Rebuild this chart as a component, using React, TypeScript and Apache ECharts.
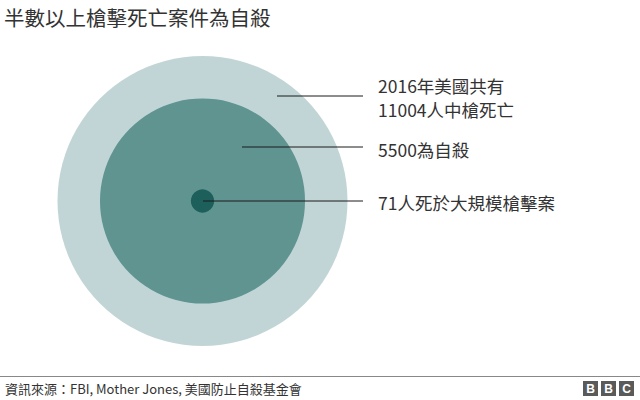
import React, { useEffect, useRef } from "react";
import * as echarts from "echarts";

const categories = [["2016年美國共有", "11004人中槍死亡"], ["5500為自殺"], ["71人死於大規模槍擊案"]];
const values = [11004, 5500, 71];
const colors = ["#c2d5d6", "#5f9491", "#1d5f5a"];
const titleText = "半數以上槍擊死亡案件為自殺";
const sourceText = "資訊來源：FBI, Mother Jones, 美國防止自殺基金會";

const FONT = "'Noto Sans CJK TC', 'Noto Sans', sans-serif";

export default function App() {
  const ref = useRef<HTMLDivElement>(null);
  useEffect(() => {
    document.body.style.margin = "0";
    const chart = echarts.init(ref.current!, null, { renderer: "svg" });
    const cx = 202.5;
    const cy = 201;
    const maxR = 145;
    const maxV = Math.max(...values);
    const radius = (v: number) => maxR * Math.sqrt(v / maxV);
    const lineY = [96, 147, 201];
    const lineX0 = [277, 242, 203];
    const labelY = [97.5, 149, 202];
    const lineH = 24;
    const graphics: any[] = [];
    categories.forEach((lines, i) => {
      graphics.push({
        type: "line",
        z: 10,
        shape: { x1: lineX0[i], y1: lineY[i], x2: 363, y2: lineY[i] },
        style: { stroke: "#1a1a1a", lineWidth: 1 },
      });
      const start = labelY[i] - ((lines.length - 1) * lineH) / 2;
      lines.forEach((t, j) => {
        graphics.push({
          type: "text",
          z: 10,
          x: 378,
          y: start + j * lineH,
          style: {
            text: t,
            font: `17.5px ${FONT}`,
            fill: "#333333",
            verticalAlign: "middle",
          },
        });
      });
    });
    graphics.push(
      {
        type: "text",
        x: 4,
        y: 17,
        style: { text: titleText, font: `20.5px ${FONT}`, fill: "#333333", verticalAlign: "middle" },
      },
      {
        type: "line",
        shape: { x1: 0, y1: 376.5, x2: 640, y2: 376.5 },
        style: { stroke: "#888888", lineWidth: 1 },
      },
      {
        type: "text",
        x: 5,
        y: 388,
        style: { text: sourceText, font: `13px ${FONT}`, fill: "#333333", verticalAlign: "middle" },
      }
    );
    ["B", "B", "C"].forEach((ch, i) => {
      const x = 583 + i * 18;
      graphics.push({
        type: "rect",
        shape: { x, y: 381, width: 15, height: 15 },
        style: { fill: "#5a5a5a" },
      });
      graphics.push({
        type: "text",
        x: x + 7.5,
        y: 389,
        style: {
          text: ch,
          font: `bold 12px 'Liberation Sans', Arial, sans-serif`,
          fill: "#ffffff",
          align: "center",
          verticalAlign: "middle",
        },
      });
    });

    chart.setOption({
      animation: false,
      grid: { left: 0, right: 0, top: 0, bottom: 0 },
      xAxis: { type: "value", min: 0, max: 640, show: false },
      yAxis: { type: "value", min: 0, max: 400, inverse: true, show: false },
      series: [
        {
          type: "scatter",
          data: values.map((v, i) => ({
            value: [cx, cy, v],
            symbolSize: radius(v) * 2,
            itemStyle: { color: colors[i], opacity: 1 },
          })),
          symbol: "circle",
          silent: true,
        },
      ],
      graphic: graphics,
    });
    return () => chart.dispose();
  }, []);
  return <div ref={ref} style={{ width: 640, height: 400 }} />;
}
